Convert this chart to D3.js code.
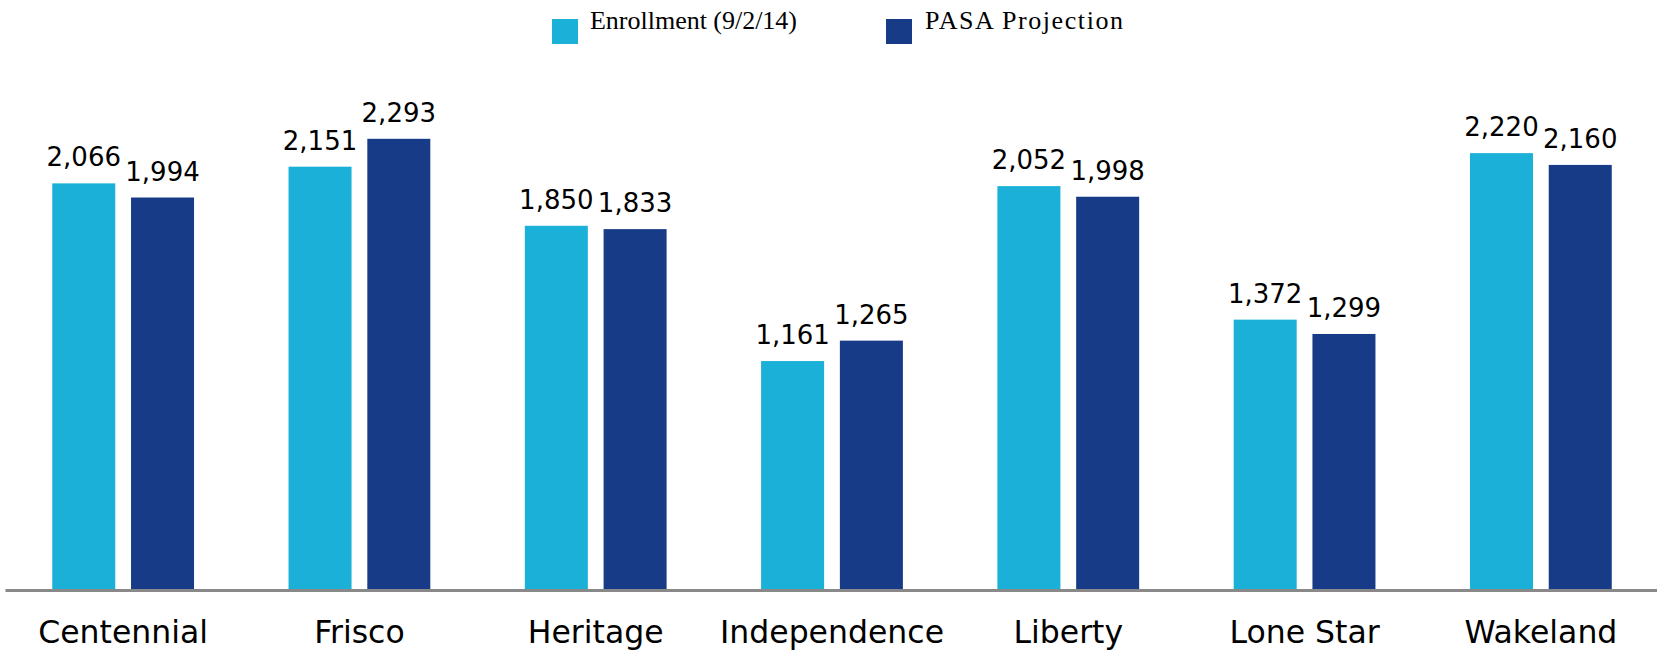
<!DOCTYPE html>
<html>
<head>
<meta charset="utf-8">
<script src="https://cdn.jsdelivr.net/npm/d3@7"></script>
<style>
  body { margin: 0; background: #fff; }
  svg { display: block; }
</style>
</head>
<body>
<svg id="chart"></svg>
<script>
// Schools and the two series
const schools = ["Centennial", "Frisco", "Heritage", "Independence", "Liberty", "Lone Star", "Wakeland"];
const seriesNames = ["Enrollment (9/2/14)", "PASA Projection"];
const enrollment = [2066, 2151, 1850, 1161, 2052, 1372, 2220];
const projection = [1994, 2293, 1833, 1265, 1998, 1299, 2160];

const colors = ["#1ab0d8", "#173b87"];

const width = 1657, height = 653;
const svg = d3.select("#chart").attr("width", width).attr("height", height);

const rows = schools.map((s, i) => ({ school: s, values: [enrollment[i], projection[i]] }));

// scales
const x0 = d3.scaleBand().domain(schools).range([5, 1659]).padding(0);
const x1 = d3.scaleBand().domain([0, 1]).range([0, x0.bandwidth()])
    .paddingInner(0.2).paddingOuter(0.6);
const y = d3.scaleLinear().domain([0, 3000]).range([589, 0]);

// bars
const groups = svg.selectAll(".group")
    .data(rows)
    .enter()
    .append("g")
    .attr("class", "group")
    .attr("transform", d => `translate(${x0(d.school)},0)`);

groups.selectAll("rect")
    .data(d => d.values.map((v, k) => ({ k: k, v: v })))
    .enter()
    .append("rect")
    .attr("x", d => x1(d.k))
    .attr("y", d => y(d.v))
    .attr("width", x1.bandwidth())
    .attr("height", d => y(0) - y(d.v))
    .style("fill", d => colors[d.k]);

// value labels
groups.selectAll(".val")
    .data(d => d.values.map((v, k) => ({ k: k, v: v })))
    .enter()
    .append("text")
    .attr("class", "val")
    .attr("x", d => x1(d.k) + x1.bandwidth() / 2)
    .attr("y", d => y(d.v) - 17)
    .attr("text-anchor", "middle")
    .style("font-family", "'DejaVu Sans', Verdana, sans-serif")
    .style("font-size", "26px")
    .style("fill", "#000")
    .text(d => d3.format(",")(d.v));

// x axis
const xAxis = svg.append("g")
    .attr("transform", "translate(0,590)")
    .call(d3.axisBottom(x0).tickSize(0).tickSizeOuter(0).tickPadding(31));
xAxis.select(".domain").attr("stroke", "#898989").attr("stroke-width", 3);
xAxis.selectAll("text")
    .style("font-family", "'DejaVu Sans', Verdana, sans-serif")
    .style("font-size", "31.5px")
    .style("fill", "#000");

// legend
const legendX = [552, 886];
const legendLen = [207, 198];
const legend = svg.selectAll(".legend")
    .data(seriesNames)
    .enter()
    .append("g")
    .attr("class", "legend")
    .attr("transform", (d, i) => `translate(${legendX[i]},0)`);

legend.append("rect")
    .attr("x", 0)
    .attr("y", 19)
    .attr("width", 26)
    .attr("height", 25)
    .style("fill", (d, i) => colors[i]);

legend.append("text")
    .attr("x", (d, i) => i === 0 ? 38 : 39)
    .attr("y", 29)
    .attr("textLength", (d, i) => legendLen[i])
    .attr("lengthAdjust", "spacing")
    .style("font-family", "'Liberation Serif', 'Times New Roman', serif")
    .style("font-size", "26px")
    .style("fill", "#000")
    .text(d => d);
</script>
</body>
</html>
